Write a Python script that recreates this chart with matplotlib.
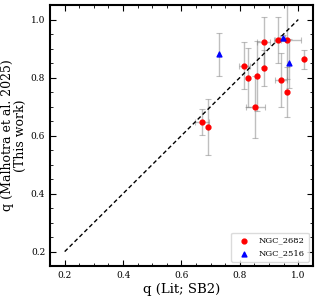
import matplotlib
matplotlib.use("Agg")
import matplotlib.pyplot as plt
from matplotlib.ticker import MultipleLocator

plt.rcParams['font.family'] = ['DejaVu Serif']

# NGC_2682
x1 = [0.671, 0.692, 0.815, 0.829, 0.859, 0.853, 0.883, 0.881, 0.931, 0.963, 0.940, 0.961, 1.019]
y1 = [0.646, 0.629, 0.840, 0.799, 0.806, 0.698, 0.834, 0.922, 0.930, 0.930, 0.792, 0.751, 0.863]
y1err = [0.044, 0.097, 0.081, 0.102, 0.120, 0.106, 0.062, 0.086, 0.080, 0.136, 0.093, 0.086, 0.033]
x1err = [0.023, 0.0, 0.019, 0.0, 0.0, 0.032, 0.0, 0.023, 0.010, 0.046, 0.021, 0.0, 0.0]

# NGC_2516
x2 = [0.728, 0.946, 0.969]
y2 = [0.880, 0.936, 0.849]
y2err = [0.073, 0.010, 0.085]
x2err = [0.0, 0.010, 0.0]

line_x = [0.2, 1.0]

fig = plt.figure(figsize=(3.17, 2.96), dpi=100)
ax = fig.add_axes([0.158, 0.101, 0.829, 0.882])

ax.errorbar(x1, y1, yerr=y1err, xerr=x1err, fmt='none', ecolor='gray', alpha=0.5,
            elinewidth=1, capsize=2, capthick=0.8, zorder=1)
ax.errorbar(x2, y2, yerr=y2err, xerr=x2err, fmt='none', ecolor='gray', alpha=0.5,
            elinewidth=1, capsize=2, capthick=0.8, zorder=1)
ax.scatter(x1, y1, marker='o', color='red', s=12, label='NGC_2682', zorder=3)
ax.scatter(x2, y2, marker='^', color='blue', s=12, label='NGC_2516', zorder=3)
ax.plot(line_x, line_x, color='black', linestyle=(0, (3, 2)), lw=1.0, zorder=2)

ax.set_xlim(0.15, 1.05)
ax.set_ylim(0.15, 1.05)
ax.xaxis.set_major_locator(MultipleLocator(0.2))
ax.yaxis.set_major_locator(MultipleLocator(0.2))
ax.xaxis.set_minor_locator(MultipleLocator(0.05))
ax.yaxis.set_minor_locator(MultipleLocator(0.05))
ax.tick_params(which='both', direction='in', top=True, right=True, labelsize=6.5)
ax.tick_params(which='major', length=4, width=0.8)
ax.tick_params(which='minor', length=2, width=0.6)
for s in ax.spines.values():
    s.set_linewidth(1.5)

ax.set_xlabel('q (Lit; SB2)', fontsize=9.5, labelpad=2)
ax.set_ylabel('q (Malhotra et al. 2025)\n(This work)', fontsize=9, labelpad=3,
              linespacing=1.0)

leg = ax.legend(loc='lower right', fontsize=6, frameon=True, handletextpad=0.8,
                borderpad=0.5, labelspacing=0.6)
leg.get_frame().set_edgecolor('lightgray')

fig.savefig('out.png', dpi=100)
